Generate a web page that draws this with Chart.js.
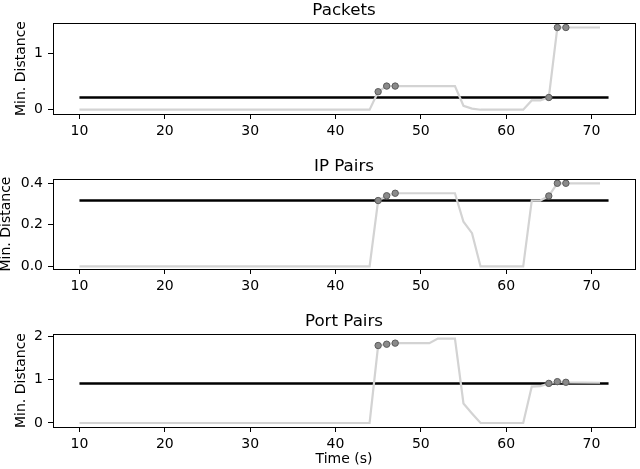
<!DOCTYPE html>
<html><head><meta charset="utf-8">
<script src="https://cdn.jsdelivr.net/npm/chart.js@4/dist/chart.umd.min.js"></script>
<style>
html,body{margin:0;padding:0;background:#fff;width:640px;height:469px;overflow:hidden;position:relative}
canvas{position:absolute;left:0}
</style></head><body>
<canvas id="c1" width="640" height="145" style="top:0;width:640px;height:145px"></canvas>
<canvas id="c2" width="640" height="145" style="top:150px;width:640px;height:145px"></canvas>
<canvas id="c3" width="640" height="169" style="top:300px;width:640px;height:169px"></canvas>
<script>
// ---- data ----
const TIME        = [10, 44, 45,    46,    47,    51,    52,    54,    55,    56,   57, 62, 63,    64,    65,    66,    67,    71];
const PACKETS     = [ 0,  0, 0.32,  0.42,  0.42,  0.42,  0.42,  0.42,  0.07,  0.02, 0,  0,  0.165, 0.165, 0.217, 1.46,  1.46,  1.46];
const IP_PAIRS    = [ 0,  0, 0.317, 0.34,  0.352, 0.352, 0.352, 0.352, 0.215, 0.16, 0,  0,  0.317, 0.317, 0.339, 0.40,  0.40,  0.40];
const PORT_PAIRS  = [ 0,  0, 1.79,  1.82,  1.845, 1.845, 1.95,  1.95,  0.45,  0.22, 0,  0,  0.84,  0.85,  0.915, 0.955, 0.94,  0.93];
const MARK_TIME   = [45, 46, 47, 65, 66, 67];
const THRESH_TIME = [10, 72];
const THRESH_PACKETS = 0.217;
const THRESH_IP      = 0.317;
const THRESH_PORT    = 0.912;
const X_TICKS = [10, 20, 30, 40, 50, 60, 70];
const Y_TICKS_PACKETS = [0, 1];
const Y_TICKS_IP      = [0.0, 0.2, 0.4];
const Y_TICKS_PORT    = [0, 1, 2];
const TITLES = ['Packets', 'IP Pairs', 'Port Pairs'];
const Y_LABEL = 'Min. Distance';
const X_LABEL = 'Time (s)';

const FONT = '"DejaVu Sans", sans-serif';

const boxPlugin = {
  id: 'boxAndTitle',
  afterDraw(chart) {
    const a = chart.chartArea, ctx = chart.ctx;
    ctx.save();
    ctx.strokeStyle = '#000';
    ctx.lineWidth = 1;
    ctx.strokeRect(Math.round(a.left) + 0.5, Math.round(a.top) + 0.5,
                   Math.round(a.right - a.left), Math.round(a.bottom - a.top));
    const t = chart.options.plugins.boxAndTitle.text;
    ctx.fillStyle = '#000';
    ctx.font = '16.7px ' + FONT;
    ctx.textAlign = 'center';
    ctx.textBaseline = 'alphabetic';
    ctx.fillText(t, (a.left + a.right) / 2, a.top - 8.3);
    ctx.restore();
  }
};

function pts(xs, ys) { return xs.map((x, i) => ({x: x, y: ys[i]})); }
function marks(vals) { return MARK_TIME.map(t => ({x: t, y: vals[TIME.indexOf(t)]})); }

function makeChart(id, title, vals, thresh, yMin, yMax, yTicks, fmt, padTop, xHeight, xTitle, yTitlePad) {
  return new Chart(document.getElementById(id), {
    type: 'line',
    data: {
      datasets: [
        { data: marks(vals), showLine: false, pointRadius: 3.2, pointBackgroundColor: '#8a8a8a',
          pointBorderColor: '#5c5c5c', pointBorderWidth: 1, order: 0 },
        { data: pts(TIME, vals), borderColor: '#d3d3d3', borderWidth: 2.2, pointRadius: 0, order: 1 },
        { data: pts(THRESH_TIME, [thresh, thresh]), borderColor: '#000', borderWidth: 2.4, pointRadius: 0, order: 2 }
      ]
    },
    options: {
      responsive: false, animation: false, devicePixelRatio: 1,
      layout: { padding: { top: padTop, right: 2, left: 0, bottom: 0 } },
      plugins: { legend: { display: false }, tooltip: { enabled: false }, boxAndTitle: { text: title } },
      scales: {
        x: {
          type: 'linear', min: 6.9, max: 75.1,
          afterBuildTicks: s => { s.ticks = X_TICKS.map(v => ({value: v})); },
          afterFit: s => { s.height = xHeight; },
          grid: { drawOnChartArea: false, drawTicks: true, tickLength: 5, color: '#000', tickColor: '#000', tickWidth: 1 },
          border: { display: true, color: '#000', width: 1 },
          ticks: { color: '#000', font: { family: FONT, size: 14 }, padding: 4, maxRotation: 0, autoSkip: false },
          title: { display: !!xTitle, text: X_LABEL, color: '#000', font: { family: FONT, size: 14 }, padding: { top: 0, bottom: 1 } }
        },
        y: {
          type: 'linear', min: yMin, max: yMax,
          afterBuildTicks: s => { s.ticks = yTicks.map(v => ({value: v})); },
          afterFit: s => { s.width = 53; },
          grid: { drawOnChartArea: false, drawTicks: true, tickLength: 5, color: '#000', tickColor: '#000', tickWidth: 1 },
          border: { display: true, color: '#000', width: 1 },
          ticks: { color: '#000', font: { family: FONT, size: 14 }, padding: 5, callback: v => fmt(v) },
          title: { display: true, text: Y_LABEL, color: '#000', font: { family: FONT, size: 14 }, padding: { top: yTitlePad, bottom: 0 } }
        }
      }
    },
    plugins: [boxPlugin]
  });
}

makeChart('c1', TITLES[0], PACKETS,    THRESH_PACKETS, -0.076, 1.54,  Y_TICKS_PACKETS, v => v.toFixed(0), 23, 31, false, 12.6);
makeChart('c2', TITLES[1], IP_PAIRS,   THRESH_IP,      -0.0125, 0.4206, Y_TICKS_IP,    v => v.toFixed(1), 29, 26, false, -1.6);
makeChart('c3', TITLES[2], PORT_PAIRS, THRESH_PORT,    -0.093, 2.056, Y_TICKS_PORT,    v => v.toFixed(0), 34, 42, true, 12.6);
</script>
</body></html>
